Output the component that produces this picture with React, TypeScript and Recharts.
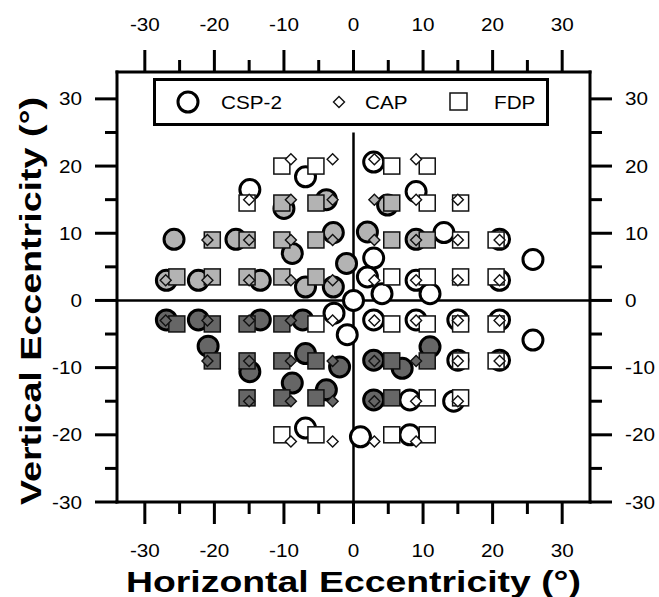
import { ScatterChart, Scatter, XAxis, YAxis, ReferenceLine } from 'recharts';

type Pt = [number, number];

// axis setup
const xDomain: [number, number] = [-34, 34];
const yDomain: [number, number] = [-30, 34];
const tickValues = [-30, -25, -20, -15, -10, -5, 0, 5, 10, 15, 20, 25, 30];

// CSP-2 (circles), grouped by fill
const cspSuperior: Pt[] = [
  [-25.8, 9.1], [-16.9, 9.1], [-8.8, 7.0], [-2.9, 10.1], [-10.0, 13.7], [-3.9, 15.0],
  [-26.9, 3.0], [-22.3, 3.0], [-13.4, 3.0], [-6.9, 2.0], [-2.9, 2.0], [-1.0, 5.5],
  [4.9, 14.2], [2.0, 10.2], [9.0, 9.1],
];
const cspInferior: Pt[] = [
  [-26.9, -2.9], [-22.3, -2.9], [-13.4, -2.9], [-7.3, -2.9], [-20.9, -6.8], [-14.9, -10.6],
  [-6.9, -7.9], [-2.0, -9.9], [-8.8, -12.3], [-3.9, -13.3], [2.9, -8.9], [7.0, -10.1],
  [11.0, -6.9], [2.9, -14.8],
];
const cspOther: Pt[] = [
  [-6.9, 18.4], [-14.9, 16.5], [2.9, 20.6], [9.0, 16.2], [13.0, 10.1], [21.0, 9.1],
  [25.8, 6.1], [2.9, 6.3], [2.0, 3.5], [9.0, 3.0], [21.0, 3.0], [4.1, 1.0], [11.0, 1.0],
  [0, 0], [-2.8, -1.9], [-0.9, -5.1], [1.0, -20.3], [-6.9, -19.0], [2.9, -2.9], [9.0, -2.9],
  [15.0, -2.9], [21.0, -2.9], [25.8, -5.9], [15.0, -8.9], [21.0, -8.9], [8.1, -14.8],
  [14.4, -15.0], [8.1, -20.0],
];

// CAP (diamonds)
const capSuperior: Pt[] = [
  [-9, 15], [-3, 15], [-21, 9], [-15, 9], [-9, 9], [-3, 9], [-27, 3], [-21, 3], [-15, 3],
  [-9, 3], [-3, 3], [3, 15], [3, 9], [9, 9],
];
const capInferior: Pt[] = [
  [-27, -3], [-21, -3], [-15, -3], [-9, -3], [-21, -9], [-15, -9], [-9, -9], [-3, -9],
  [-15, -15], [-9, -15], [-3, -15], [3, -9], [9, -9], [3, -15],
];
const capOther: Pt[] = [
  [-9, 21], [-3, 21], [-15, 15], [3, 21], [9, 21], [9, 15], [15, 15], [15, 9], [21, 9],
  [3, 3], [9, 3], [15, 3], [21, 3], [-3, -3], [3, -3], [9, -3], [15, -3], [21, -3],
  [15, -9], [21, -9], [9, -15], [15, -15], [-9, -21], [-3, -21], [3, -21], [9, -21],
];

// FDP (squares)
const fdpSuperior: Pt[] = [
  [-10.3, 14.5], [-5.4, 14.5], [-20.3, 9], [-15.3, 9], [-10.3, 9], [-5.4, 9], [-25.4, 3.5],
  [-20.3, 3.5], [-15.3, 3.5], [-10.3, 3.5], [-5.4, 3.5], [5.5, 14.5], [5.5, 9], [10.6, 9],
];
const fdpInferior: Pt[] = [
  [-25.4, -3.5], [-20.3, -3.5], [-15.3, -3.5], [-10.3, -3.5], [-20.3, -9], [-15.3, -9],
  [-10.3, -9], [-5.4, -9], [-15.3, -14.5], [-10.3, -14.5], [-5.4, -14.5], [5.5, -9],
  [10.6, -9], [5.5, -14.5],
];
const fdpOther: Pt[] = [
  [-10.3, 20], [-5.4, 20], [-15.3, 14.5], [5.5, 20], [10.6, 20], [10.6, 14.5], [15.4, 14.5],
  [15.4, 9], [20.5, 9], [5.5, 3.5], [10.6, 3.5], [15.4, 3.5], [20.5, 3.5], [-5.4, -3.5],
  [5.5, -3.5], [10.6, -3.5], [15.4, -3.5], [20.5, -3.5], [15.4, -9], [20.5, -9],
  [10.6, -14.5], [15.4, -14.5], [-10.3, -20], [-5.4, -20], [5.5, -20], [10.6, -20],
];

const LIGHT = '#b3b3b3';
const DARK = '#666666';
const WHITE = '#ffffff';
const FONT = '"Liberation Sans", Arial, sans-serif';

const toRows = (pts: Pt[]) => pts.map(([x, y]) => ({ x, y }));

const circleShape = (fill: string) => (p: any) => (
  <circle cx={p.cx} cy={p.cy} r={10} fill={fill} stroke="#000" strokeWidth={3} />
);
const squareShape = (fill: string) => (p: any) => (
  <rect x={p.cx - 8} y={p.cy - 8} width={16} height={16} fill={fill} stroke="#111" strokeWidth={1.5} />
);
const diamondShape = (fill: string) => (p: any) => (
  <path
    d={`M${p.cx},${p.cy - 5.5}L${p.cx + 5.5},${p.cy}L${p.cx},${p.cy + 5.5}L${p.cx - 5.5},${p.cy}Z`}
    fill={fill}
    stroke="#111"
    strokeWidth={1.4}
  />
);

// major/minor tick with label, drawn by hand
const renderTick = (side: 'top' | 'bottom' | 'left' | 'right') => (props: any) => {
  const { x, y, payload } = props;
  const v = payload.value;
  const major = v % 10 === 0;
  const len = major ? 22 : 12;
  let line;
  let label = null;
  if (side === 'bottom') {
    line = <line x1={x} y1={y} x2={x} y2={y + len} stroke="#000" strokeWidth={3} />;
    if (major) label = { tx: x, ty: y + 55, anchor: 'middle' };
  } else if (side === 'top') {
    line = <line x1={x} y1={y} x2={x} y2={y - len} stroke="#000" strokeWidth={3} />;
    if (major) label = { tx: x, ty: y - 41, anchor: 'middle' };
  } else if (side === 'left') {
    line = <line x1={x} y1={y} x2={x - len} y2={y} stroke="#000" strokeWidth={3} />;
    if (major) label = { tx: x - 35, ty: y + 6.5, anchor: 'end' };
  } else {
    line = <line x1={x} y1={y} x2={x + len} y2={y} stroke="#000" strokeWidth={3} />;
    if (major) label = { tx: x + 35, ty: y + 6.5, anchor: 'start' };
  }
  return (
    <g>
      {line}
      {label && (
        <text
          transform={`translate(${label.tx},${label.ty}) scale(1.15,1)`}
          textAnchor={label.anchor}
          fontFamily={FONT}
          fontSize={18}
          fill="#000"
        >
          {v}
        </text>
      )}
    </g>
  );
};

const axisLine = { stroke: '#000', strokeWidth: 3, strokeLinecap: 'square' as const };

function LegendBox() {
  const textStyle = { fontFamily: FONT, fontSize: 18, fill: '#000' };
  return (
    <svg
      width={396}
      height={48}
      style={{ position: 'absolute', left: 153, top: 78 }}
    >
      <rect x={1.5} y={1.5} width={393} height={45} fill="#fff" stroke="#000" strokeWidth={3} />
      <circle cx={35} cy={24} r={10} fill="#fff" stroke="#000" strokeWidth={3} />
      <text transform="translate(68,31) scale(1.15,1)" {...textStyle}>CSP-2</text>
      <path d="M186,18.5L191.5,24L186,29.5L180.5,24Z" fill="#fff" stroke="#111" strokeWidth={1.4} />
      <text transform="translate(212,31) scale(1.15,1)" {...textStyle}>CAP</text>
      <rect x={297} y={15} width={17} height={17} fill="#fff" stroke="#111" strokeWidth={1.5} />
      <text transform="translate(341,31) scale(1.15,1)" {...textStyle}>FDP</text>
    </svg>
  );
}

export default function App() {
  return (
    <div style={{ position: 'absolute', left: 0, top: 0, width: 659, height: 597, background: '#fff' }}>
      <ScatterChart width={659} height={597} margin={{ top: 0, right: 0, bottom: 0, left: 0 }}>
        <XAxis
          xAxisId="b"
          type="number"
          dataKey="x"
          orientation="bottom"
          domain={xDomain}
          ticks={tickValues}
          height={95}
          axisLine={axisLine}
          tickLine={false}
          tickSize={0}
          tickMargin={0}
          tick={renderTick('bottom')}
          interval={0}
          label={{
            content: ({ viewBox }: any) => (
              <text
                x={viewBox.x + viewBox.width / 2}
                y={viewBox.y + 90}
                textAnchor="middle"
                fontFamily={FONT}
                fontWeight="bold"
                fontSize={29}
                textLength={455}
                lengthAdjust="spacingAndGlyphs"
              >
                Horizontal Eccentricity (°)
              </text>
            ),
          }}
        />
        <XAxis
          xAxisId="t"
          type="number"
          dataKey="x"
          orientation="top"
          domain={xDomain}
          ticks={tickValues}
          height={72}
          axisLine={axisLine}
          tickLine={false}
          tickSize={0}
          tickMargin={0}
          tick={renderTick('top')}
          interval={0}
        />
        <YAxis
          yAxisId="l"
          type="number"
          dataKey="y"
          orientation="left"
          domain={yDomain}
          ticks={tickValues}
          width={117}
          axisLine={axisLine}
          tickLine={false}
          tickSize={0}
          tickMargin={0}
          tick={renderTick('left')}
          interval={0}
          label={{
            content: ({ viewBox }: any) => {
              const cx = 41;
              const cy = viewBox.y + viewBox.height / 2 + 14;
              return (
                <text
                  transform={`translate(${cx},${cy}) rotate(-90)`}
                  textAnchor="middle"
                  fontFamily={FONT}
                  fontWeight="bold"
                  fontSize={29}
                  textLength={408}
                  lengthAdjust="spacingAndGlyphs"
                >
                  Vertical Eccentricity (°)
                </text>
              );
            },
          }}
        />
        <YAxis
          yAxisId="r"
          type="number"
          dataKey="y"
          orientation="right"
          domain={yDomain}
          ticks={tickValues}
          width={69}
          axisLine={axisLine}
          tickLine={false}
          tickSize={0}
          tickMargin={0}
          tick={renderTick('right')}
          interval={0}
        />

        <ReferenceLine xAxisId="b" yAxisId="l" y={0} stroke="#000" strokeWidth={2.5} />
        <ReferenceLine
          xAxisId="b"
          yAxisId="l"
          segment={[{ x: 0, y: -30 }, { x: 0, y: 25 }]}
          stroke="#000"
          strokeWidth={2.5}
        />

        {/* circles first, then squares, diamonds on top */}
        <Scatter xAxisId="b" yAxisId="l" data={toRows(cspSuperior)} shape={circleShape(LIGHT)} isAnimationActive={false} />
        <Scatter xAxisId="b" yAxisId="l" data={toRows(cspInferior)} shape={circleShape(DARK)} isAnimationActive={false} />
        <Scatter xAxisId="b" yAxisId="l" data={toRows(cspOther)} shape={circleShape(WHITE)} isAnimationActive={false} />
        <Scatter xAxisId="b" yAxisId="l" data={toRows(fdpSuperior)} shape={squareShape(LIGHT)} isAnimationActive={false} />
        <Scatter xAxisId="b" yAxisId="l" data={toRows(fdpInferior)} shape={squareShape(DARK)} isAnimationActive={false} />
        <Scatter xAxisId="b" yAxisId="l" data={toRows(fdpOther)} shape={squareShape(WHITE)} isAnimationActive={false} />
        <Scatter xAxisId="b" yAxisId="l" data={toRows(capSuperior)} shape={diamondShape(LIGHT)} isAnimationActive={false} />
        <Scatter xAxisId="b" yAxisId="l" data={toRows(capInferior)} shape={diamondShape(DARK)} isAnimationActive={false} />
        <Scatter xAxisId="b" yAxisId="l" data={toRows(capOther)} shape={diamondShape(WHITE)} isAnimationActive={false} />

        {/* mirror axes need a series bound to them to get ticks; draw nothing */}
        <Scatter xAxisId="t" yAxisId="r" data={toRows(capOther)} shape={() => <g />} isAnimationActive={false} />
      </ScatterChart>
      <LegendBox />
    </div>
  );
}
